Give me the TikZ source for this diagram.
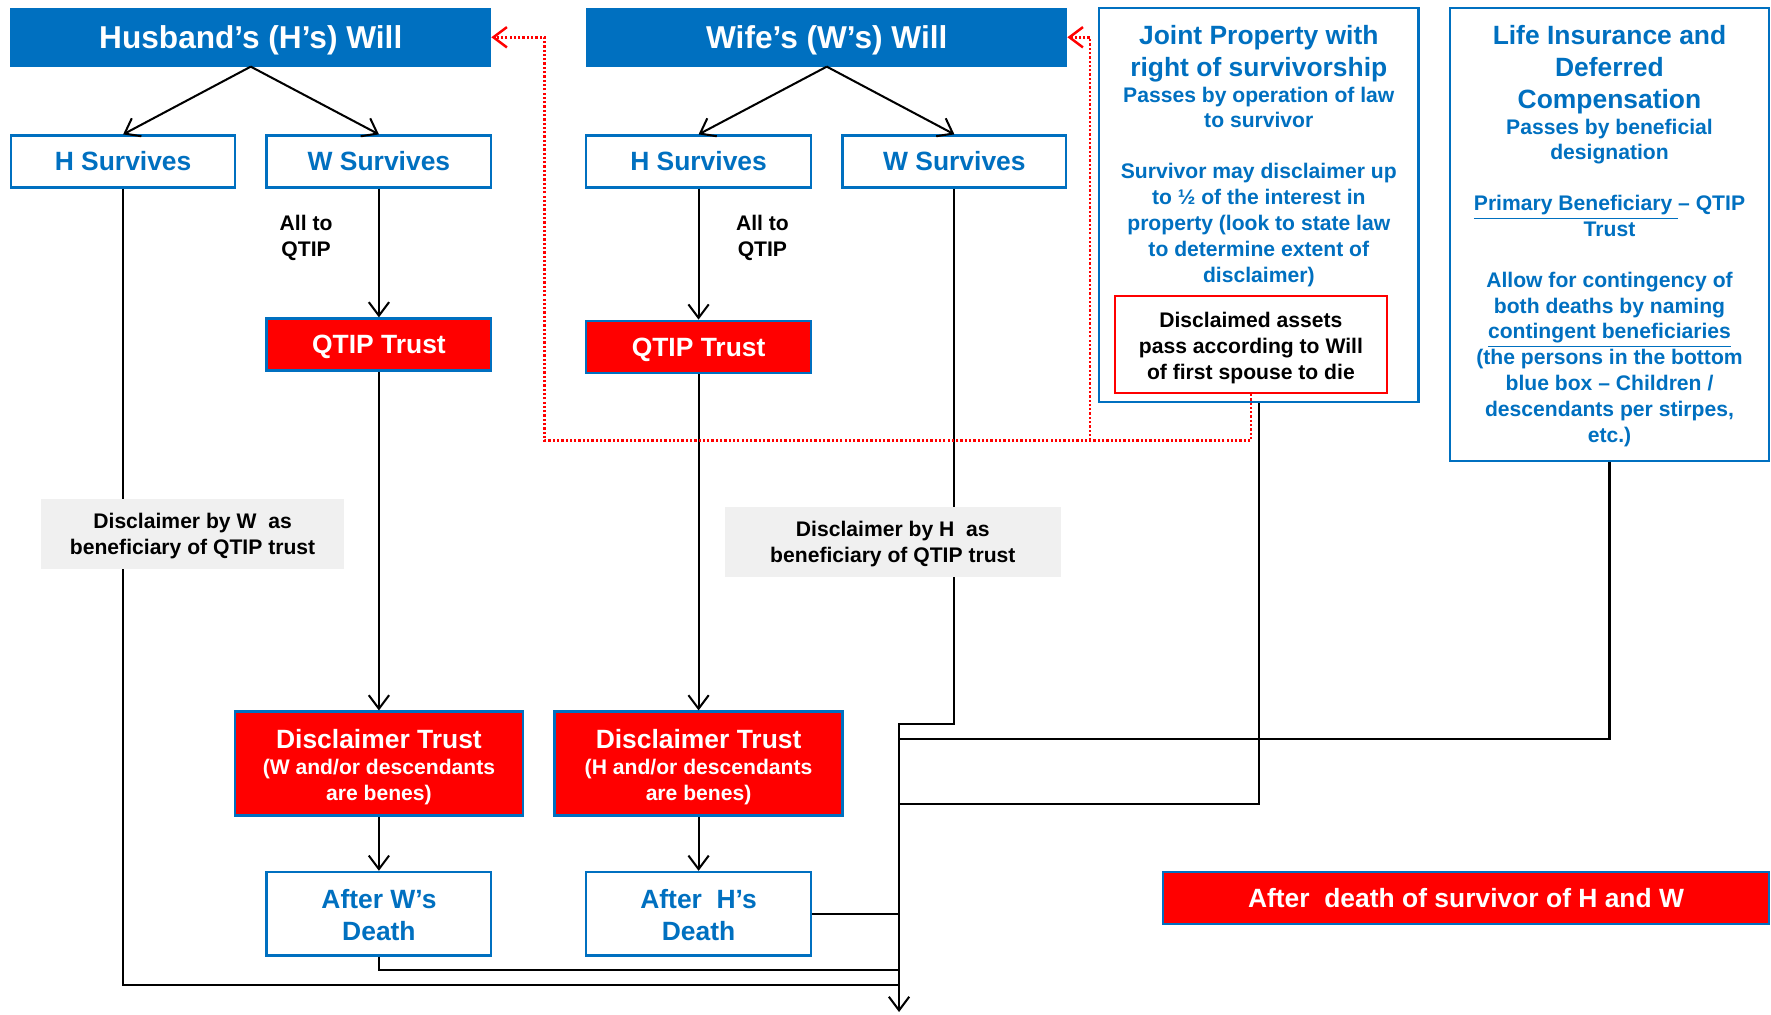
\documentclass[tikz,border=0pt]{standalone}
\usepackage{fontspec}
\setmainfont{Liberation Sans}
\usetikzlibrary{arrows.meta}
\definecolor{wblue}{HTML}{0070C0}
\definecolor{wred}{HTML}{FF0000}
\definecolor{wgrey}{HTML}{F0F0F0}
\newcommand\ttlfont{\fontsize{14}{16}\selectfont}
\newcommand\lgfont{\fontsize{11.7}{14}\selectfont}
\newcommand\smfont{\fontsize{9.35}{11.45}\selectfont}
% invisible prop that lowers a centred block of lines
\newcommand\lift[1]{\rule{0pt}{#1}}
\begin{document}
\begin{tikzpicture}[x=0.5pt,y=-0.5pt,
  box/.style={rectangle, inner sep=0pt, align=center, font={\bfseries\lgfont}, line width=1pt},
  oneline/.style={text height=8.4pt, text depth=0pt},
  willbox/.style={box, fill=wblue, draw=wblue, text=white, font={\bfseries\ttlfont},
                  minimum width=212pt, minimum height=25pt, text height=10pt, text depth=0pt},
  plainbox/.style={box, draw=wblue, fill=white, text=wblue},
  trustbox/.style={box, draw=wblue, fill=wred, text=white},
  greybox/.style={box, fill=wgrey, text=black, font={\bfseries\smfont}, minimum height=31pt},
  note/.style={inner sep=0pt, align=center, font={\bfseries\smfont}},
  flow/.style={line width=0.9pt, -{Straight Barb[length=6pt,width=9pt]}},
  link/.style={line width=0.9pt},
  back/.style={wred, line width=1.1pt, dash pattern=on 1pt off 0.9pt,
               -{Straight Barb[length=6pt,width=9pt]}}
]
\useasboundingbox (0,0) rectangle (1568,898);

% wills
\node[willbox] (hwill) at (222,33) {Husband’s (H’s) Will};
\node[willbox] (wwill) at (732,33) {Wife’s (W’s) Will};

% survivor branches
\node[plainbox, oneline, minimum width=99pt, minimum height=23pt] (hsA) at (109,143) {H Survives};
\node[plainbox, oneline, minimum width=99.5pt, minimum height=23pt] (wsA) at (335.5,143) {W Survives};
\node[plainbox, oneline, minimum width=99.5pt, minimum height=23pt] (hsB) at (618.5,143) {H Survives};
\node[plainbox, oneline, minimum width=99pt, minimum height=23pt] (wsB) at (845,143) {W Survives};

\node[note] (allA) at (271,210.5) {All to\\QTIP};
\node[note] (allB) at (675,210.5) {All to\\QTIP};

% trusts
\node[trustbox, oneline, minimum width=99.5pt, minimum height=23pt] (qtA) at (335.5,305) {QTIP Trust};
\node[trustbox, oneline, minimum width=99.5pt, minimum height=23pt] (qtB) at (618.5,307) {QTIP Trust};

\node[trustbox, minimum width=127.5pt, minimum height=46pt, font={\bfseries\smfont}] (dtA) at (335.5,676)
  {{\lgfont\lift{11.4pt}Disclaimer Trust}\\(W and/or descendants\\are benes)};
\node[trustbox, minimum width=127.5pt, minimum height=46pt, font={\bfseries\smfont}] (dtB) at (618.5,676)
  {{\lgfont\lift{11.4pt}Disclaimer Trust}\\(H and/or descendants\\are benes)};

\node[plainbox, minimum width=99.5pt, minimum height=37pt] (awA) at (335.5,809) {\lift{9.4pt}After W’s\\Death};
\node[plainbox, minimum width=99.5pt, minimum height=37pt] (ahB) at (618.5,809) {\lift{9.4pt}After~~H’s\\Death};

% joint property
\node[plainbox, minimum width=141.5pt, minimum height=174.5pt] (jp) at (1114.5,181.5) {};
\node[note, text=wblue, anchor=north] (jptext) at (1114.5,22.2)
  {{\lgfont Joint Property with}\\[2.5pt]
   {\lgfont right of survivorship}\\
   Passes by operation of law\\
   to survivor\\[11pt]
   Survivor may disclaimer up\\
   to ½ of the interest in\\
   property (look to state law\\
   to determine extent of\\
   disclaimer)};
\node[box, draw=wred, line width=0.8pt, fill=white, text=black, font={\bfseries\smfont},
      minimum width=120.5pt, minimum height=43pt] (da) at (1107.5,305)
  {\lift{9.8pt}Disclaimed assets\\pass according to Will\\of first spouse to die};

% life insurance
\node[plainbox, minimum width=141pt, minimum height=200.5pt] (li) at (1425,207.5) {};
\node[note, text=wblue, anchor=north] (litext) at (1425,22.2)
  {{\lgfont Life Insurance and}\\[2.5pt]
   {\lgfont Deferred}\\[3pt]
   {\lgfont Compensation}\\[-0.3pt]
   Passes by beneficial\\
   designation\\[11pt]
   \underline{Primary Beneficiary\ }– QTIP\\
   Trust\\[11pt]
   Allow for contingency of\\
   both deaths by naming\\
   \underline{contingent beneficiaries}\\
   (the persons in the bottom\\
   blue box – Children /\\
   descendants per stirpes,\\
   etc.)};

\node[trustbox, oneline, minimum width=268pt, minimum height=23pt] (fin) at (1298,795)
  {After~~death of survivor of H and W};

% joints on the collecting line
\coordinate (bus) at (796,641);
\coordinate (sink) at (796,896);
\coordinate (j1) at (796,872);
\coordinate (j2) at (796,859);
\coordinate (j3) at (796,809);
\coordinate (j4) at (796,712);
\coordinate (j5) at (796,654);
\coordinate (r1) at (1107.5,390);
\coordinate (r2) at (482,390);
\coordinate (r3) at (965,390);

% flow
\draw[flow] (hwill.south) -- (hsA.north);
\draw[flow] (hwill.south) -- (wsA.north);
\draw[flow] (wwill.south) -- (hsB.north);
\draw[flow] (wwill.south) -- (wsB.north);
\draw[flow] (wsA.south) -- (qtA.north);
\draw[flow] (hsB.south) -- (qtB.north);
\draw[flow] (qtA.south) -- (dtA.north);
\draw[flow] (qtB.south) -- (dtB.north);
\draw[flow] (dtA.south) -- (awA.north);
\draw[flow] (dtB.south) -- (ahB.north);

\draw[flow] (wsB.south) |- (bus) -- (sink);
\draw[link] (hsA.south) |- (j1);
\draw[link] (awA.south) |- (j2);
\draw[link] (ahB.east) -- (j3);
\draw[link] (jp.south) |- (j4);
\draw[link] (li.south) |- (j5);

% disclaimed assets go back to the wills
\draw[back] (da.south) -- (r1) -- (r2) |- (hwill.east);
\draw[back] (r3) |- (wwill.east);

% disclaimer notes over the lines
\node[greybox, minimum width=134.5pt] (gW) at (170.5,473) {\lift{8.6pt}Disclaimer by W~~as\\beneficiary of QTIP trust};
\node[greybox, minimum width=148.5pt] (gH) at (790.5,480) {\lift{8.6pt}Disclaimer by H~~as\\beneficiary of QTIP trust};
\end{tikzpicture}
\end{document}
